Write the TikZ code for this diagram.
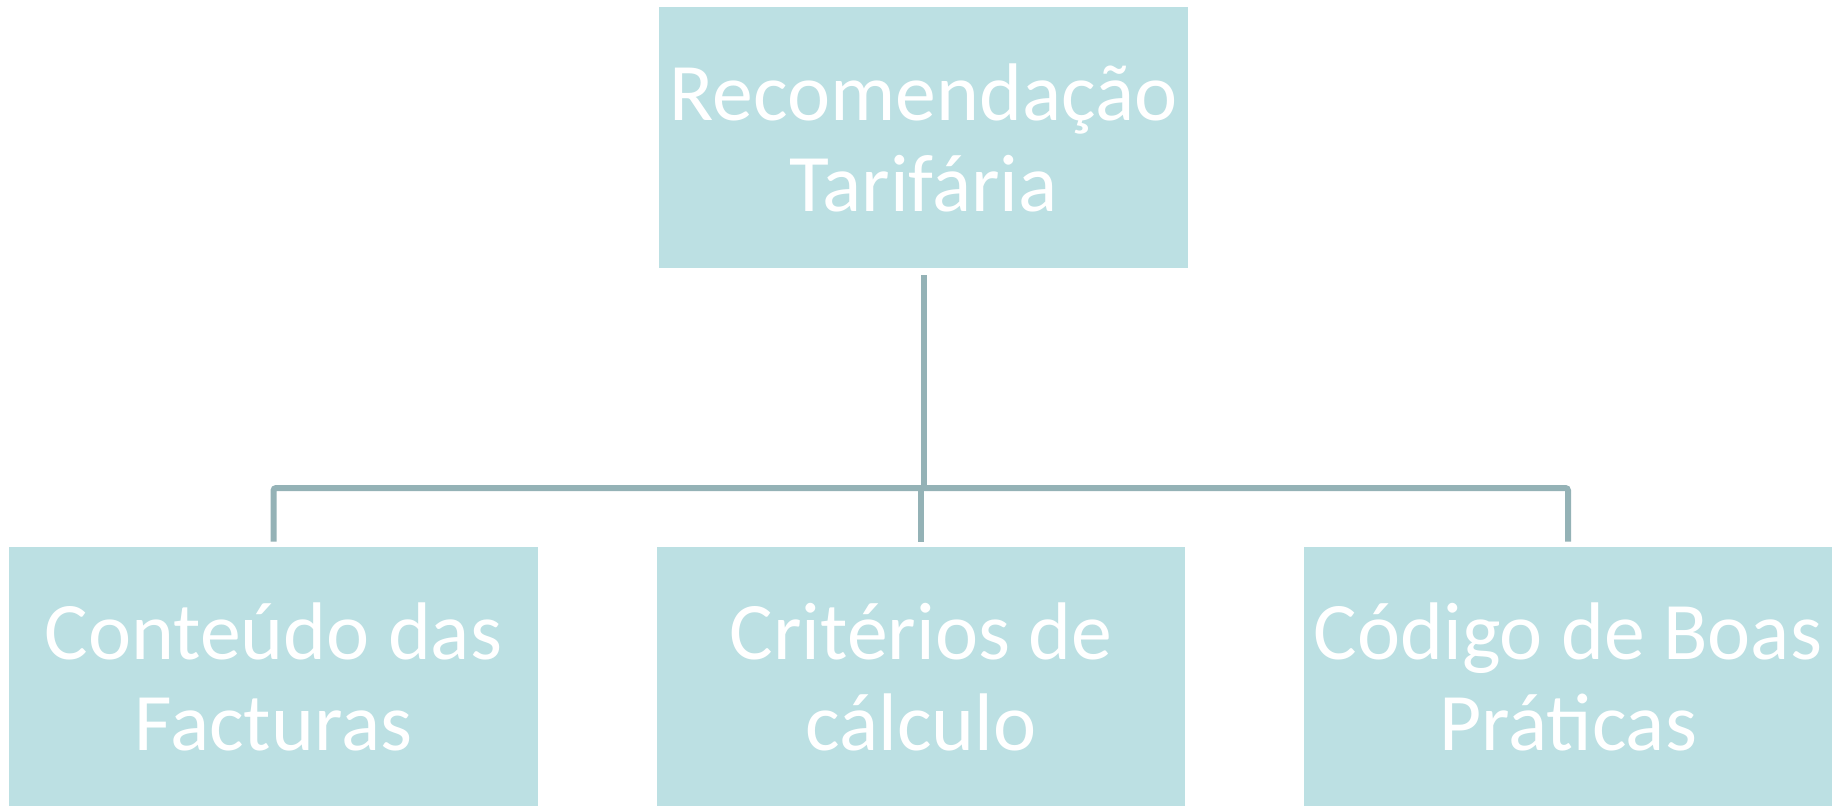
\documentclass[tikz,border=0pt]{standalone}
\usepackage{fontspec}
\setmainfont{Carlito}
\usetikzlibrary{positioning,calc}
\definecolor{boxfill}{HTML}{BCE0E3}
\definecolor{linecol}{HTML}{94B2B6}

\begin{document}
\begin{tikzpicture}[x=0.02cm,y=-0.02cm,
	caixa/.style={rectangle,fill=boxfill,text=white,align=center,minimum width=10.58cm,inner sep=0pt,font=\fontsize{46.5}{51.8}\selectfont},
	ligacao/.style={draw=linecol,line width=0.12cm}]
	\useasboundingbox (0,0) rectangle (1845,806);
	\node[caixa,minimum height=5.22cm] (recomendacao) at (923.5,137.5) {Recomendação\\Tarifária};
	\node[caixa,minimum height=5.18cm] (facturas) at (273.5,676.5) {Conteúdo das\\Facturas};
	\node[caixa,minimum height=5.18cm] (criterios) at (921,676.5) {Critérios de\\cálculo};
	\node[caixa,minimum height=5.18cm] (praticas) at (1568,676.5) {Código de Boas\\Práticas};
	\coordinate (barra) at (0,488);
	\draw[ligacao] ([yshift=-0.14cm]recomendacao.south)--(recomendacao.south |- barra);
	\draw[ligacao,rounded corners=1.5pt] ([yshift=0.1cm]facturas.north)--(facturas.north |- barra)--(praticas.north |- barra)--([yshift=0.1cm]praticas.north);
	\draw[ligacao] ([yshift=0.1cm]criterios.north)--(criterios.north |- barra);
\end{tikzpicture}
\end{document}
